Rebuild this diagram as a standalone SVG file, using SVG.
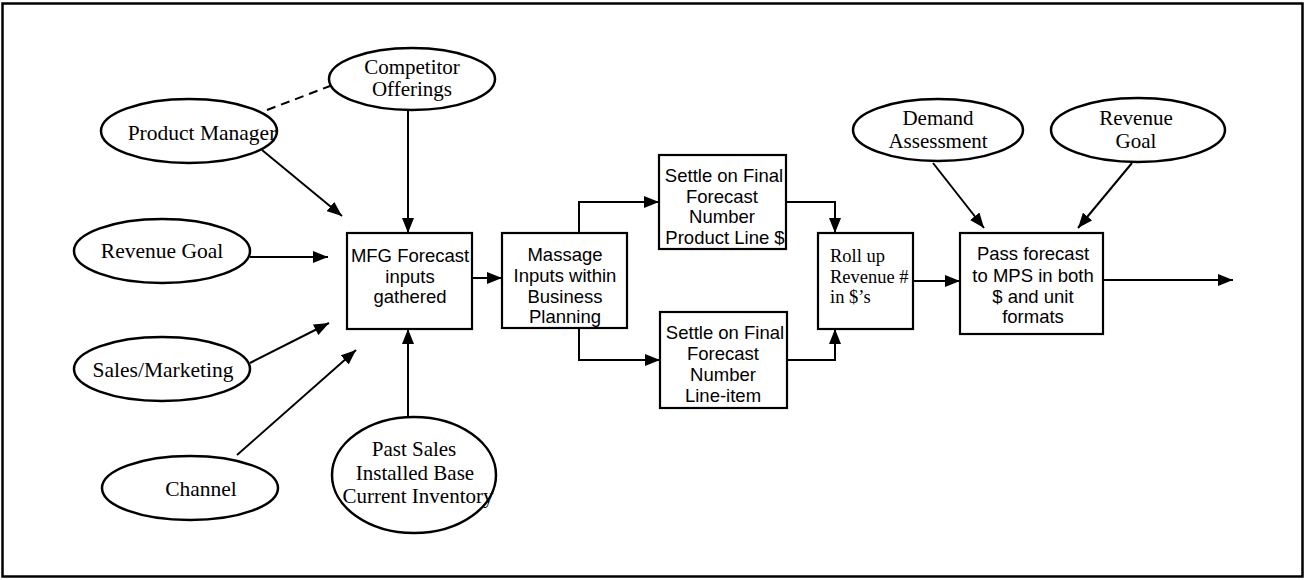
<svg xmlns="http://www.w3.org/2000/svg" width="1308" height="580" viewBox="0 0 1308 580">
<style>
.ell{fill:#fff;stroke:#000;stroke-width:2.5}
.box{fill:#fff;stroke:#000;stroke-width:2.2}
.ser{font-family:"Liberation Serif","Times New Roman",serif;font-size:21.5px;fill:#000;text-anchor:middle}
.ser2{font-family:"Liberation Serif","Times New Roman",serif;font-size:21px;fill:#000;text-anchor:middle}
.sans{font-family:"Liberation Sans",Arial,sans-serif;font-size:18.5px;fill:#000;text-anchor:middle}
.roll{font-family:"Liberation Serif","Times New Roman",serif;font-size:18.5px;fill:#000;text-anchor:start}
.con{fill:none;stroke:#000;stroke-width:2}
</style>
<defs>
<marker id="ah" markerUnits="userSpaceOnUse" markerWidth="16" markerHeight="12" refX="15" refY="6" orient="auto">
<path d="M0,0 L15,6 L0,12 z" fill="#000"/>
</marker>
</defs>
<rect x="0" y="0" width="1308" height="580" fill="#fff"/>
<rect x="2.5" y="3.5" width="1300" height="573" fill="none" stroke="#000" stroke-width="2.5"/>

<g id="connectors">
<line class="con" x1="267" y1="110" x2="330" y2="86" stroke-dasharray="9,6"/>
<line class="con" x1="262" y1="150" x2="342" y2="216" marker-end="url(#ah)"/>
<line class="con" x1="408" y1="111" x2="408" y2="233" marker-end="url(#ah)"/>
<line class="con" x1="250" y1="257" x2="328" y2="257" marker-end="url(#ah)"/>
<line class="con" x1="250" y1="363" x2="329" y2="323" marker-end="url(#ah)"/>
<line class="con" x1="237" y1="455" x2="356" y2="350" marker-end="url(#ah)"/>
<line class="con" x1="408" y1="417" x2="408" y2="329" marker-end="url(#ah)"/>
<line class="con" x1="472" y1="278" x2="502" y2="278" marker-end="url(#ah)"/>
<polyline class="con" points="579,233 579,202 659,202" marker-end="url(#ah)"/>
<polyline class="con" points="579,328 579,360 660,360" marker-end="url(#ah)"/>
<polyline class="con" points="786,202 835,202 835,233" marker-end="url(#ah)"/>
<polyline class="con" points="787,360 835,360 835,329" marker-end="url(#ah)"/>
<line class="con" x1="913" y1="281" x2="960" y2="281" marker-end="url(#ah)"/>
<line class="con" x1="933" y1="163" x2="984" y2="228" marker-end="url(#ah)"/>
<line class="con" x1="1132" y1="163" x2="1078" y2="228" marker-end="url(#ah)"/>
<line class="con" x1="1103" y1="280" x2="1233" y2="280" marker-end="url(#ah)"/>
</g>

<g id="competitor">
<ellipse class="ell" cx="412" cy="79" rx="83" ry="31"/>
<text class="ser2" x="412" y="74">Competitor</text>
<text class="ser2" x="412" y="96">Offerings</text>
</g>
<g id="product-manager">
<ellipse class="ell" cx="189" cy="131" rx="88" ry="32"/>
<text class="ser" x="202" y="140">Product Manager</text>
</g>
<g id="revenue-goal-left">
<ellipse class="ell" cx="162" cy="251" rx="88" ry="32"/>
<text class="ser" x="162" y="258">Revenue Goal</text>
</g>
<g id="sales-marketing">
<ellipse class="ell" cx="162" cy="369" rx="88" ry="32"/>
<text class="ser" x="163" y="377">Sales/Marketing</text>
</g>
<g id="channel">
<ellipse class="ell" cx="190" cy="488" rx="88" ry="32"/>
<text class="ser" x="201" y="496">Channel</text>
</g>
<g id="past-sales">
<ellipse class="ell" cx="414" cy="475" rx="82" ry="58"/>
<text class="ser2" x="414" y="456">Past Sales</text>
<text class="ser2" x="415" y="480">Installed Base</text>
<text class="ser2" x="418" y="503">Current Inventory</text>
</g>
<g id="mfg">
<rect class="box" x="347" y="233" width="125" height="96"/>
<text class="sans" x="410" y="262">MFG Forecast</text>
<text class="sans" x="410" y="283">inputs</text>
<text class="sans" x="410" y="303">gathered</text>
</g>
<g id="massage">
<rect class="box" x="502" y="233" width="125" height="95"/>
<text class="sans" x="565" y="261">Massage</text>
<text class="sans" x="565" y="282">Inputs within</text>
<text class="sans" x="565" y="303">Business</text>
<text class="sans" x="565" y="323">Planning</text>
</g>
<g id="settle-product-line">
<rect class="box" x="659" y="155" width="127" height="94"/>
<text class="sans" x="724" y="182">Settle on Final</text>
<text class="sans" x="722" y="203">Forecast</text>
<text class="sans" x="722" y="223">Number</text>
<text class="sans" x="725" y="244">Product Line $</text>
</g>
<g id="settle-line-item">
<rect class="box" x="660" y="312" width="127" height="96"/>
<text class="sans" x="725" y="339">Settle on Final</text>
<text class="sans" x="723" y="360">Forecast</text>
<text class="sans" x="723" y="381">Number</text>
<text class="sans" x="723" y="402">Line-item</text>
</g>
<g id="roll-up">
<rect class="box" x="818" y="233" width="95" height="96"/>
<text class="roll" x="830" y="262">Roll up</text>
<text class="roll" x="830" y="283">Revenue #</text>
<text class="roll" x="830" y="303">in $’s</text>
</g>
<g id="pass-forecast">
<rect class="box" x="960" y="233" width="143" height="101"/>
<text class="sans" x="1033" y="260">Pass forecast</text>
<text class="sans" x="1033" y="282">to MPS in both</text>
<text class="sans" x="1033" y="303">$ and unit</text>
<text class="sans" x="1033" y="323">formats</text>
</g>
<g id="demand-assessment">
<ellipse class="ell" cx="938" cy="130" rx="85" ry="31"/>
<text class="ser2" x="938" y="125">Demand</text>
<text class="ser2" x="938" y="148">Assessment</text>
</g>
<g id="revenue-goal-right">
<ellipse class="ell" cx="1138" cy="130" rx="87" ry="32"/>
<text class="ser2" x="1136" y="125">Revenue</text>
<text class="ser2" x="1136" y="148">Goal</text>
</g>
</svg>
